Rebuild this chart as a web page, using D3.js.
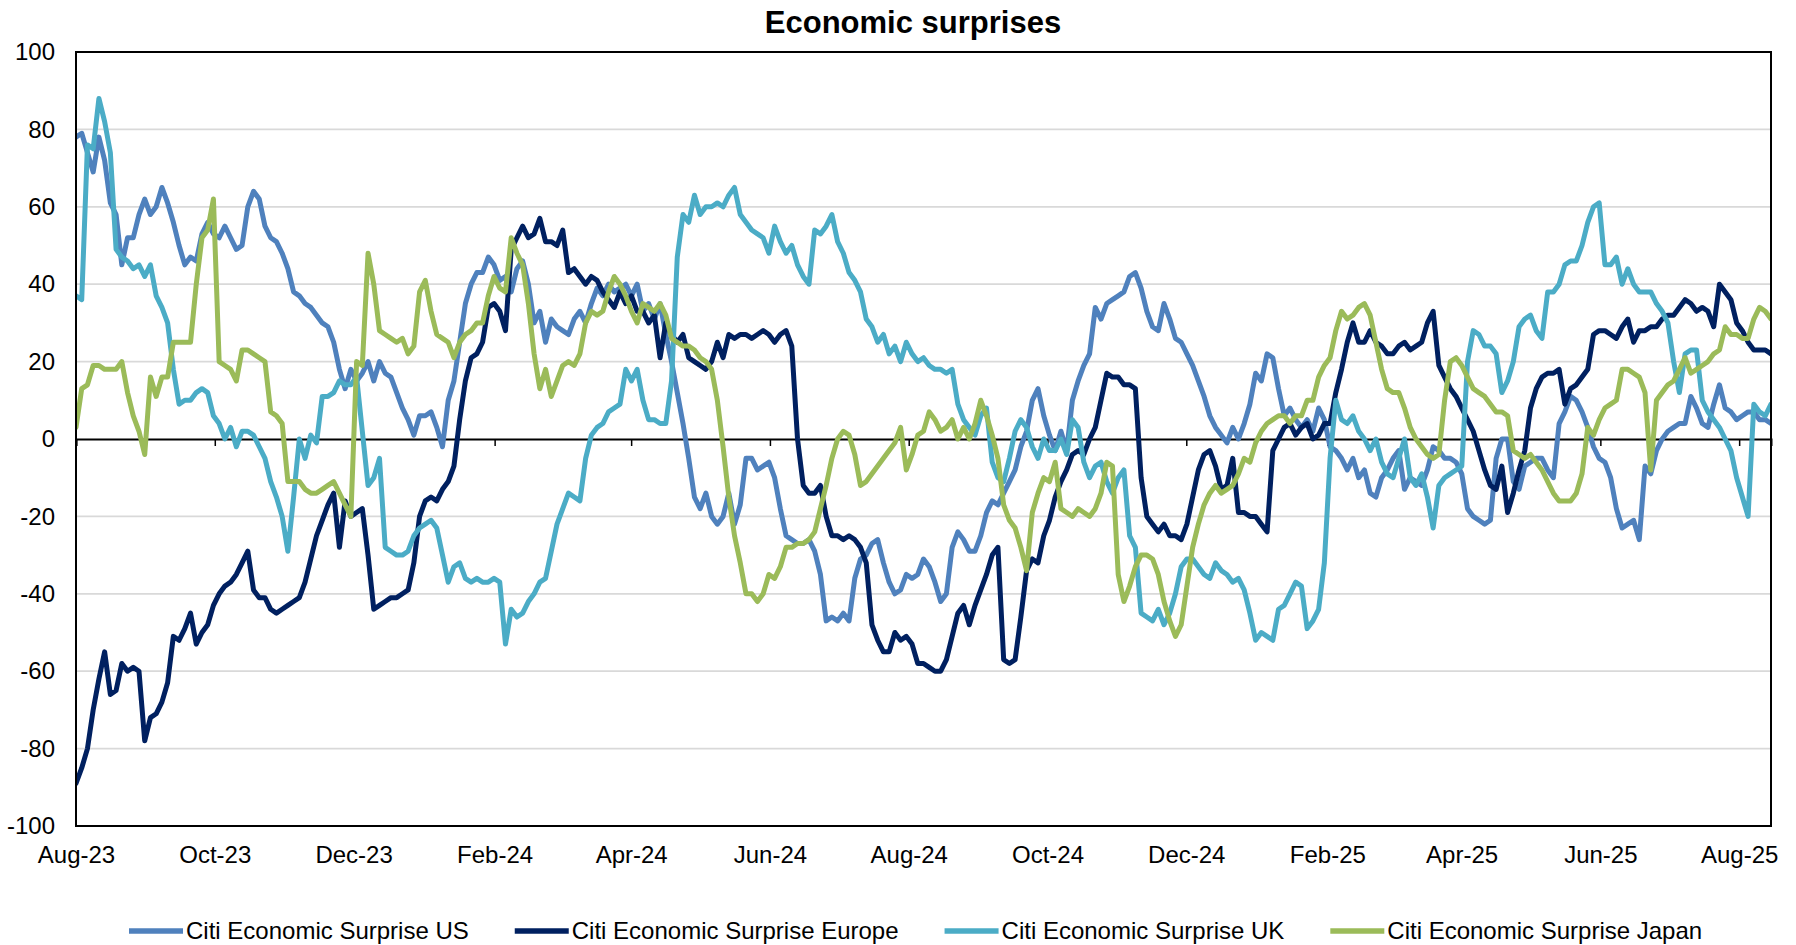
<!DOCTYPE html>
<html>
<head>
<meta charset="utf-8">
<script src="https://cdn.jsdelivr.net/npm/d3@7"></script>
<style>
  html, body { margin: 0; padding: 0; background: #ffffff; }
  svg { display: block; font-family: "Liberation Sans", Arial, sans-serif; }
</style>
</head>
<body>
<svg id="chart" width="1796" height="945"></svg>
<script>
// ---------------- DATA ----------------
const chartTitle = "Economic surprises";
const seriesNames = ["Citi Economic Surprise US", "Citi Economic Surprise Europe", "Citi Economic Surprise UK", "Citi Economic Surprise Japan"];
const seriesColors = ["#4F81BD", "#002060", "#4BACC6", "#9BBB59"];
const startDate = new Date(2023, 7, 1);
const endDate = new Date(2025, 7, 15);
const yTicks = [-100, -80, -60, -40, -20, 0, 20, 40, 60, 80, 100];
const xTickDates = [
  new Date(2023, 7, 1), new Date(2023, 9, 1), new Date(2023, 11, 1),
  new Date(2024, 1, 1), new Date(2024, 3, 1), new Date(2024, 5, 1),
  new Date(2024, 7, 1), new Date(2024, 9, 1), new Date(2024, 11, 1),
  new Date(2025, 1, 1), new Date(2025, 3, 1), new Date(2025, 5, 1),
  new Date(2025, 7, 1)
];

// values sampled evenly from startDate to endDate
const usValues = [
  78, 79, 74, 69, 78, 72, 61, 58, 45, 52,
  52, 58, 62, 58, 60, 65, 61, 56, 50, 45,
  47, 46, 53, 56, 53, 52, 55, 52, 49, 50,
  60, 64, 62, 55, 52, 51, 48, 44, 38, 37,
  35, 34, 32, 30, 29, 25, 18, 13, 18, 15,
  17, 20, 15, 20, 17, 16, 12, 8, 5, 1,
  6, 6, 7, 3, -2, 10, 15, 25, 35, 40,
  43, 43, 47, 45, 41, 42, 38, 44, 46, 40,
  30, 33, 25, 31, 29, 28, 27, 31, 33, 30,
  35, 39, 37, 40, 38, 39, 40, 37, 40, 33,
  35, 31, 35, 27, 20, 12, 4, -5, -15, -18,
  -14, -20, -22, -20, -14, -22, -17, -5, -5, -8,
  -7, -6, -10, -18, -25, -26, -27, -27, -26, -29,
  -35, -47, -46, -47, -45, -47, -36, -31, -30, -27,
  -26, -32, -37, -40, -39, -35, -36, -35, -31, -33,
  -37, -42, -40, -28, -24, -26, -29, -29, -25, -19,
  -16, -17, -14, -11, -8, -2, 2, 10, 13, 6,
  1, -3, 2, -3, 10, 15, 19, 22, 34, 31,
  35, 36, 37, 38, 42, 43, 39, 33, 29, 28,
  35, 31, 26, 25, 22, 19, 15, 11, 6, 3,
  1, -1, 3, 0, 4, 9, 17, 15, 22, 21,
  13, 6, 8, 5, 3, 5, 2, 8, 5, -2,
  -3, -5, -8, -5, -10, -8, -14, -15, -10, -8,
  -5, -3, -13, -10, -11, -12, -8, -2, -3, -5,
  -5, -6, -9, -18, -20, -21, -22, -21, -5, 0,
  0, -11, -13, -7, -6, -5, -5, -8, -10, 4,
  7, 11, 10, 7, 3, -2, -5, -6, -10, -18,
  -23, -22, -21, -26, -7, -9, -3, 0, 2, 3,
  4, 4, 11, 8, 4, 3, 9, 14, 8, 7,
  5, 6, 7, 7, 5, 5, 4
];
const europeValues = [
  -89, -85, -80, -70, -62, -55, -66, -65, -58, -60,
  -59, -60, -78, -72, -71, -68, -63, -51, -52, -49,
  -45, -53, -50, -48, -43, -40, -38, -37, -35, -32,
  -29, -39, -41, -41, -44, -45, -44, -43, -42, -41,
  -37, -31, -25, -21, -17, -14, -28, -16, -20, -19,
  -18, -30, -44, -43, -42, -41, -41, -40, -39, -32,
  -20, -16, -15, -16, -13, -11, -7, 5, 15, 21,
  22, 25, 34, 35, 33, 28, 49, 52, 55, 52,
  53, 57, 51, 51, 50, 54, 43, 44, 42, 40,
  42, 41, 38, 36, 34, 38, 35, 37, 33, 33,
  30, 32, 21, 30, 27, 25, 27, 21, 20, 19,
  18, 20, 25, 21, 27, 26, 27, 27, 26, 27,
  28, 27, 25, 27, 28, 24, 0, -12, -14, -14,
  -12, -20, -25, -25, -26, -25, -26, -28, -32, -48,
  -52, -55, -55, -50, -52, -51, -53, -58, -58, -59,
  -60, -60, -57, -51, -45, -43, -48, -43, -39, -35,
  -30, -28, -57, -58, -57, -46, -34, -31, -32, -25,
  -21, -15, -11, -8, -4, -3, -4, 0, 3, 10,
  17, 16, 16, 14, 14, 13, -10, -20, -22, -24,
  -22, -25, -25, -26, -22, -15, -8, -4, -3, -7,
  -13, -12, -5, -19, -19, -20, -20, -22, -24, -3,
  0, 3, 4, 1, 3, 4, 0, 1, 4, 4,
  12, 18, 25, 30, 25, 25, 28, 25, 24, 22,
  22, 24, 25, 23, 24, 25, 30, 33, 19, 16,
  13, 11, 8, 5, 2, -3, -8, -12, -13, -7,
  -19, -14, -8, -3, 8, 13, 16, 17, 17, 18,
  9, 13, 14, 16, 18, 27, 28, 28, 27, 26,
  29, 31, 25, 28, 28, 29, 29, 31, 32, 32,
  34, 36, 35, 33, 34, 33, 29, 40, 38, 36,
  30, 28, 25, 23, 23, 23, 22
];
const ukValues = [
  37, 36, 76, 75, 88, 82, 74, 49, 47, 46,
  44, 45, 42, 45, 37, 34, 30, 18, 9, 10,
  10, 12, 13, 12, 6, 4, 0, 3, -2, 2,
  2, 1, -2, -5, -11, -15, -20, -29, -15, 0,
  -5, 1, -1, 11, 11, 12, 15, 14, 14, 16,
  2, -12, -10, -5, -28, -29, -30, -30, -29, -25,
  -23, -22, -21, -23, -30, -37, -33, -32, -36, -37,
  -36, -37, -37, -36, -37, -53, -44, -46, -45, -42,
  -40, -37, -36, -29, -22, -18, -14, -15, -16, -5,
  1, 3, 4, 7, 8, 9, 18, 15, 18, 10,
  5, 5, 4, 4, 15, 47, 58, 56, 63, 58,
  60, 60, 61, 60, 63, 65, 58, 56, 54, 53,
  52, 48, 55, 51, 48, 50, 45, 42, 40, 54,
  53, 55, 58, 51, 48, 43, 41, 38, 31, 29,
  25, 27, 22, 24, 20, 25, 22, 20, 21, 19,
  18, 18, 17, 18, 9, 5, 3, 1, 6, 8,
  -6, -10, -11, -5, 2, 5, 3, -2, -5, 0,
  -3, -3, 0, -4, 5, 3, -6, -10, -7, -6,
  -11, -14, -10, -8, -25, -28, -45, -46, -47, -44,
  -48, -45, -40, -33, -31, -31, -33, -35, -36, -32,
  -34, -35, -37, -36, -39, -45, -52, -50, -51, -52,
  -44, -43, -40, -37, -38, -49, -47, -44, -32, -5,
  10, 5, 4, 6, 2, 0, -3, 0, -6, -9,
  -10, -5, 0, -10, -12, -9, -15, -23, -12, -10,
  -9, -8, -7, 20, 28, 27, 24, 24, 22, 12,
  15, 20, 29, 31, 32, 28, 26, 38, 38, 40,
  45, 46, 46, 50, 56, 60, 61, 45, 45, 47,
  40, 44, 40, 38, 38, 38, 35, 33, 30, 20,
  12, 22, 23, 23, 10, 7, 5, 3, 0, -3,
  -10, -15, -20, 9, 7, 6, 9
];
const japanValues = [
  3, 13, 14, 19, 19, 18, 18, 18, 20, 12,
  6, 2, -4, 16, 11, 16, 16, 25, 25, 25,
  25, 40, 52, 54, 62, 20, 19, 18, 15, 23,
  23, 22, 21, 20, 7, 6, 4, -11, -11, -11,
  -13, -14, -14, -13, -12, -11, -14, -17, -20, 20,
  19, 48, 40, 28, 27, 26, 25, 26, 22, 24,
  38, 41, 33, 27, 26, 25, 21, 25, 27, 28,
  30, 30, 37, 42, 39, 38, 52, 48, 45, 35,
  22, 13, 18, 11, 15, 19, 20, 19, 22, 30,
  33, 32, 33, 38, 42, 40, 37, 33, 30, 35,
  34, 33, 35, 32, 26, 25, 24, 24, 23, 21,
  20, 18, 10, -2, -15, -25, -32, -40, -40, -42,
  -40, -35, -36, -33, -28, -28, -27, -27, -26, -24,
  -18, -12, -5, 0, 2, 1, -4, -12, -11, -9,
  -7, -5, -3, -1, 3, -8, -4, 1, 2, 7,
  5, 2, 3, 5, 0, 3, 0, 4, 10, 6,
  1, -5, -17, -21, -23, -28, -34, -19, -14, -10,
  -11, -6, -18, -19, -20, -18, -19, -20, -18, -14,
  -6, -7, -35, -42, -38, -33, -30, -30, -31, -35,
  -42, -47, -51, -48, -38, -28, -22, -17, -14, -12,
  -14, -13, -12, -9, -5, -6, -1, 2, 4, 5,
  6, 6, 4, 6, 6, 10, 10, 16, 19, 21,
  28, 33, 31, 32, 34, 35, 32, 25, 18, 13,
  12, 12, 8, 3, 0, -2, -4, -5, -4, 10,
  20, 21, 19, 16, 13, 12, 11, 9, 7, 7,
  6, -3, -4, -5, -4, -6, -8, -11, -14, -16,
  -16, -16, -14, -9, 3, 1, 5, 8, 9, 10,
  18, 18, 17, 16, 12, -8, 10, 12, 14, 15,
  18, 21, 17, 18, 19, 20, 22, 23, 29, 27,
  27, 26, 26, 31, 34, 33, 31
];

// ---------------- LAYOUT ----------------
const svg = d3.select("#chart");
const W = 1796, H = 945;
const plot = { left: 76, right: 1771, top: 52, bottom: 826 };
const fontFamily = '"Liberation Sans", Arial, sans-serif';

svg.append("rect").attr("width", W).attr("height", H).attr("fill", "#ffffff");

const x = d3.scaleTime().domain([startDate, endDate]).range([plot.left, plot.right]);
const y = d3.scaleLinear().domain([-100, 100]).range([plot.bottom, plot.top]);

const allSeries = [usValues, europeValues, ukValues, japanValues];
const makeDates = n => d3.range(n).map(i => new Date(+startDate + i * (endDate - startDate) / (n - 1)));

// gridlines
svg.append("g")
  .selectAll("line")
  .data(yTicks.filter(t => t !== 0 && t !== 100 && t !== -100))
  .join("line")
  .attr("x1", plot.left).attr("x2", plot.right)
  .attr("y1", d => y(d)).attr("y2", d => y(d))
  .attr("stroke", "#D9D9D9").attr("stroke-width", 1.8);

// y axis labels (plain hyphen for negatives, as in the original)
const yAxis = d3.axisLeft(y).tickValues(yTicks).tickSize(0).tickPadding(21).tickFormat(d => String(d));
const gy = svg.append("g").attr("transform", `translate(${plot.left},0)`).call(yAxis);
gy.select(".domain").remove();
gy.selectAll("text").attr("font-size", 24).attr("font-family", fontFamily).attr("fill", "#000");

// x axis labels at bottom
const xAxis = d3.axisBottom(x).tickValues(xTickDates).tickSize(0).tickPadding(20).tickFormat(d3.timeFormat("%b-%y"));
const gx = svg.append("g").attr("transform", `translate(0,${plot.bottom})`).call(xAxis);
gx.select(".domain").remove();
gx.selectAll("text").attr("font-size", 24).attr("font-family", fontFamily).attr("fill", "#000");

// clip for lines
const clipId = "plotclip";
svg.append("clipPath").attr("id", clipId).append("rect")
  .attr("x", plot.left).attr("y", plot.top)
  .attr("width", plot.right - plot.left).attr("height", plot.bottom - plot.top);

// zero line with tick marks
const zeroAxis = d3.axisBottom(x).tickValues(xTickDates).tickSize(7).tickFormat("");
const gz = svg.append("g").attr("transform", `translate(0,${y(0)})`).call(zeroAxis);
gz.select(".domain").attr("stroke", "#000").attr("stroke-width", 2);
gz.selectAll(".tick line").attr("stroke", "#000").attr("stroke-width", 1.5);

const line = d3.line()
  .x(d => x(d.date))
  .y(d => y(d.value))
  .curve(d3.curveLinear);

const gLines = svg.append("g").attr("clip-path", `url(#${clipId})`);
allSeries.forEach((vals, si) => {
  const dates = makeDates(vals.length);
  const pts = vals.map((v, i) => ({ date: dates[i], value: v }));
  gLines.append("path")
    .datum(pts)
    .attr("fill", "none")
    .attr("stroke", seriesColors[si])
    .attr("stroke-width", 5)
    .attr("stroke-linejoin", "round")
    .attr("stroke-linecap", "round")
    .attr("d", line);
});

// plot border
svg.append("rect")
  .attr("x", plot.left).attr("y", plot.top)
  .attr("width", plot.right - plot.left).attr("height", plot.bottom - plot.top)
  .attr("fill", "none").attr("stroke", "#000").attr("stroke-width", 2);

// title
svg.append("text")
  .attr("x", 913).attr("y", 33)
  .attr("text-anchor", "middle")
  .attr("font-family", fontFamily)
  .attr("font-size", 31).attr("font-weight", "bold")
  .attr("fill", "#000")
  .text(chartTitle);

// legend
const legend = svg.append("g");
let lx = 129;
const ly = 931;
seriesNames.forEach((name, i) => {
  legend.append("line")
    .attr("x1", lx).attr("x2", lx + 54)
    .attr("y1", ly).attr("y2", ly)
    .attr("stroke", seriesColors[i]).attr("stroke-width", 5.5);
  const t = legend.append("text")
    .attr("x", lx + 57).attr("y", ly)
    .attr("dy", "0.35em")
    .attr("font-family", fontFamily)
    .attr("font-size", 24)
    .attr("fill", "#000")
    .text(name);
  lx = lx + 57 + t.node().getComputedTextLength() + 46;
});
</script>
</body>
</html>
